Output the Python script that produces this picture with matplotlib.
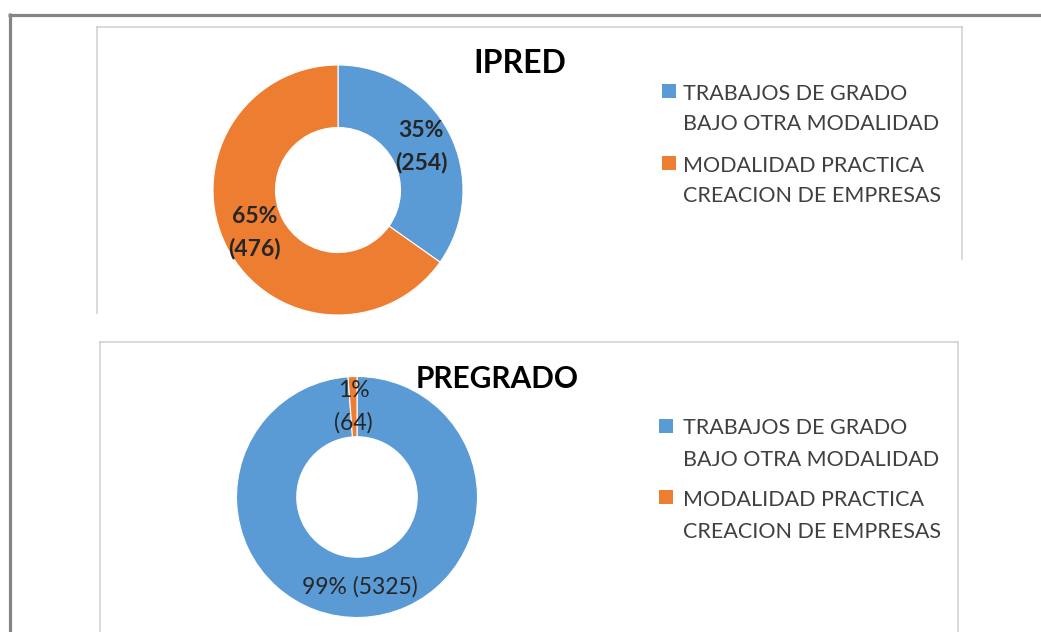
import numpy as np
import matplotlib.pyplot as plt
from matplotlib.patches import Rectangle

W, H = 1041, 632  # tamaño de la imagen en px (dpi 100)

# ---------- Datos ----------
LABELS = ["TRABAJOS DE GRADO\nBAJO OTRA MODALIDAD",
          "MODALIDAD PRACTICA\nCREACION DE EMPRESAS"]
COLORS = ["#5B9BD5", "#ED7D31"]
TITLES = ["IPRED", "PREGRADO"]
IPRED_VALUES = [254, 476]
PREGRADO_VALUES = [5325, 64]
# separador entre % y cantidad en cada etiqueta
IPRED_SEPS = ["\n", "\n"]
PREGRADO_SEPS = [" ", "\n"]

plt.rcParams["font.family"] = ["Lato", "DejaVu Sans"]


def up(y):
    """px desde arriba -> coordenada y hacia arriba."""
    return H - y


def draw_panel(fig, box, values, seps, title, title_xy, title_size, center, radius,
               legend_x, legend_lines, bold, right_bottom=None):
    x0, y0, x1, y1 = box
    ax = fig.add_axes([x0 / W, (H - y1) / H, (x1 - x0) / W, (y1 - y0) / H])
    _, _, autotexts = ax.pie(
        values, colors=COLORS, startangle=90, counterclock=False,
        center=(center[0], up(center[1])), radius=radius,
        autopct=lambda p: "", pctdistance=0.75,
        wedgeprops=dict(width=radius * 0.5, edgecolor="white", linewidth=0.8))

    pct = np.round(np.array(values) / sum(values) * 100).astype(int)
    for t, p, v, s in zip(autotexts, pct, values, seps):
        t.set_text(f"{p}%{s}({v})")
        t.set_fontsize(16.5)
        t.set_fontweight("bold" if bold else "normal")
        t.set_color("#262626")
        t.set_linespacing(1.6)

    ax.set_xlim(x0, x1)
    ax.set_ylim(H - y1, H - y0)
    ax.set_aspect("auto")
    ax.set_frame_on(True)
    ax.set_xticks([]); ax.set_yticks([])
    for sp in ax.spines.values():
        sp.set_color("#cfcfcf")
        sp.set_linewidth(1.1)
    ax.spines["bottom"].set_visible(False)
    if right_bottom is not None:
        ax.spines["right"].set_bounds(up(right_bottom), up(y0))

    ax.text(title_xy[0], up(title_xy[1]), title, ha="center", va="baseline",
            fontsize=title_size, fontweight="bold", color="black")

    # leyenda a mano: cuadrito alineado con la primera línea
    for i, (lab, col) in enumerate(zip(LABELS, COLORS)):
        ys = legend_lines[i]
        ax.add_patch(Rectangle((legend_x, up(ys[0]) - 7 + 1.5), 14, 14,
                               facecolor=col, edgecolor="none"))
        for line, yc in zip(lab.split("\n"), ys):
            ax.text(683, up(yc) - 7.5, line, ha="left", va="baseline",
                    fontsize=15.5, color="#404040")
    return ax


fig = plt.figure(figsize=(W / 100, H / 100), dpi=100)

# marco gris exterior
bg = fig.add_axes([0, 0, 1, 1])
bg.set_xlim(0, W); bg.set_ylim(0, H); bg.axis("off")
bg.plot([8, W], [up(14.5), up(14.5)], color="#858585", lw=2.3, solid_capstyle="butt")
bg.plot([9.5, 9.5], [up(13), 0], color="#858585", lw=2.3, solid_capstyle="butt")

draw_panel(fig, (97, 27, 962, 313), IPRED_VALUES, IPRED_SEPS, TITLES[0],
           (520, 73), 23, (338, 190), 125, 662,
           [(92, 123), (164, 195)], bold=True, right_bottom=259)
draw_panel(fig, (100, 342, 958, 633), PREGRADO_VALUES, PREGRADO_SEPS, TITLES[1],
           (497, 388), 21.5, (357, 497), 120.5, 659,
           [(427, 458), (498, 530)], bold=False)

fig.savefig("out.png", dpi=100)
